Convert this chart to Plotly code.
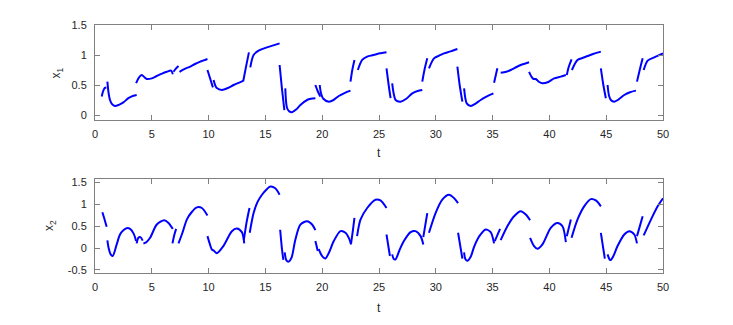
import plotly.graph_objects as go

# x1 segments (t, value)
x1_t = [
    [0.59, 0.72, 0.85, 1.0],
    [1.09, 1.18, 1.32, 1.5, 1.76, 2.1, 2.5, 2.94, 3.38, 3.67],
    [3.62, 3.85, 4.12, 4.35, 4.56, 5.0, 5.44, 5.9, 6.32, 6.7, 6.85],
    [6.91, 7.1, 7.35],
    [7.44, 7.9, 8.38, 8.8, 9.26, 9.9],
    [9.9, 10.15, 10.38],
    [10.44, 10.57, 10.72, 11.17, 11.7, 12.2, 12.7, 13.08],
    [13.05, 13.3, 13.55],
    [13.67, 13.96, 14.4, 15.14, 15.7, 16.25],
    [16.25, 16.45, 16.67],
    [16.75, 16.9, 17.1, 17.34, 17.7, 18.08, 18.67, 19.0, 19.4],
    [19.4, 19.6, 19.84],
    [19.78, 19.9, 20.1, 20.58, 21.0, 21.46, 22.0, 22.49],
    [22.49, 22.65, 22.84],
    [23.14, 23.52, 23.96, 24.4, 24.84, 25.66],
    [25.66, 25.85, 26.02],
    [26.16, 26.3, 26.46, 26.9, 27.4, 27.93, 28.4, 28.81],
    [28.81, 29.0, 29.25],
    [29.4, 29.84, 30.3, 30.72, 31.3, 31.9],
    [31.9, 32.1, 32.34],
    [32.49, 32.6, 32.72, 33.07, 33.5, 33.95, 34.5, 35.07],
    [35.13, 35.3, 35.42],
    [35.71, 36.2, 36.6, 37.1, 37.48, 38.21],
    [38.21, 38.45, 38.6, 38.8, 39.1, 39.39, 39.9, 40.42, 41.0, 41.45],
    [41.53, 41.7, 41.95],
    [41.98, 42.47, 42.9, 43.36, 43.9, 44.53],
    [44.53, 44.75, 44.97],
    [45.12, 45.25, 45.41, 45.71, 46.1, 46.59, 47.1, 47.62],
    [47.71, 47.95, 48.21],
    [48.3, 48.65, 49.24, 50.0],
]
x1_v = [
    [0.31, 0.40, 0.45, 0.46],
    [0.556, 0.39, 0.25, 0.18, 0.15, 0.17, 0.21, 0.28, 0.32, 0.333],
    [0.53, 0.62, 0.667, 0.63, 0.60, 0.61, 0.65, 0.69, 0.72, 0.74, 0.68],
    [0.72, 0.77, 0.817],
    [0.72, 0.77, 0.806, 0.85, 0.889, 0.933],
    [0.75, 0.6, 0.46],
    [0.583, 0.5, 0.45, 0.417, 0.45, 0.5, 0.54, 0.572],
    [0.567, 0.81, 1.044],
    [0.794, 1.0, 1.072, 1.128, 1.16, 1.194],
    [0.833, 0.45, 0.083],
    [0.444, 0.12, 0.06, 0.045, 0.09, 0.167, 0.25, 0.27, 0.28],
    [0.5, 0.4, 0.306],
    [0.5, 0.36, 0.27, 0.222, 0.25, 0.317, 0.37, 0.406],
    [0.556, 0.75, 0.917],
    [0.75, 0.917, 0.972, 0.995, 1.017, 1.044],
    [0.778, 0.5, 0.28],
    [0.528, 0.35, 0.25, 0.222, 0.27, 0.361, 0.40, 0.417],
    [0.556, 0.75, 0.944],
    [0.778, 0.944, 0.99, 1.028, 1.06, 1.1],
    [0.806, 0.5, 0.222],
    [0.444, 0.28, 0.194, 0.15, 0.19, 0.25, 0.31, 0.361],
    [0.539, 0.68, 0.778],
    [0.706, 0.72, 0.75, 0.8, 0.833, 0.878],
    [0.72, 0.63, 0.60, 0.60, 0.55, 0.528, 0.55, 0.611, 0.64, 0.667],
    [0.667, 0.8, 0.928],
    [0.75, 0.917, 0.95, 0.983, 1.02, 1.056],
    [0.778, 0.5, 0.28],
    [0.5, 0.32, 0.25, 0.222, 0.26, 0.333, 0.38, 0.406],
    [0.556, 0.75, 0.944],
    [0.75, 0.906, 0.961, 1.025],
]

# x2 segments
x2_t = [
    [0.65, 0.85, 1.03],
    [1.09, 1.2, 1.38, 1.56, 1.91, 2.2, 2.5, 2.79, 3.09, 3.4, 3.62],
    [3.67, 3.82, 4.0, 4.2],
    [4.26, 4.5, 4.85, 5.44, 6.09, 6.47, 6.85],
    [6.82, 6.98, 7.14],
    [7.35, 7.7, 8.08, 8.5, 8.96, 9.41, 9.9],
    [9.9, 10.1, 10.28, 10.49, 10.72, 11.3, 12.05, 12.49, 12.93, 13.14],
    [13.1, 13.35, 13.6],
    [13.62, 13.96, 14.3, 14.7, 15.1, 15.43, 15.87, 16.25],
    [16.3, 16.45, 16.58],
    [16.7, 16.85, 17.05, 17.3, 17.64, 18.08, 18.67, 19.11, 19.4],
    [19.4, 19.61],
    [19.7, 19.85, 20.05, 20.28, 20.6, 21.02, 21.61, 22.05, 22.4, 22.54],
    [22.54, 22.7, 22.84],
    [23.07, 23.37, 23.96, 24.69, 25.13, 25.66],
    [25.66, 25.96],
    [26.16, 26.3, 26.46, 26.8, 27.19, 27.78, 28.22, 28.66, 28.9],
    [28.9, 29.25],
    [29.4, 29.98, 30.57, 31.16, 31.6, 31.96],
    [31.96, 32.34],
    [32.49, 32.6, 32.8, 33.07, 33.37, 33.66, 34.0, 34.39, 34.83, 35.13],
    [35.19, 35.66],
    [35.71, 36.3, 36.89, 37.48, 37.92, 38.3],
    [38.3, 38.65, 38.95, 39.39, 40.12, 40.71, 41.15, 41.45],
    [41.53, 41.89],
    [41.95, 42.47, 43.06, 43.65, 44.09, 44.53],
    [44.53, 44.88],
    [45.12, 45.3, 45.41, 45.6, 46.0, 46.59, 47.03, 47.47, 47.71],
    [47.71, 48.21],
    [48.3, 48.94, 49.53, 50.0],
]
x2_v = [
    [0.82, 0.65, 0.486],
    [0.175, 0.0, -0.144, -0.181, 0.084, 0.311, 0.41, 0.455, 0.44, 0.33, 0.16],
    [0.107, 0.235, 0.25, 0.17],
    [0.107, 0.13, 0.235, 0.538, 0.637, 0.576, 0.44],
    [0.107, 0.3, 0.44],
    [0.107, 0.35, 0.652, 0.82, 0.932, 0.917, 0.743],
    [0.273, 0.1, -0.03, -0.067, -0.12, 0.046, 0.387, 0.447, 0.364, 0.107],
    [0.18, 0.6, 0.917],
    [0.35, 0.8, 1.05, 1.22, 1.34, 1.41, 1.37, 1.22],
    [0.42, 0.0, -0.27],
    [-0.1, -0.28, -0.31, -0.22, 0.198, 0.538, 0.614, 0.538, 0.41],
    [0.16, -0.067],
    [-0.02, -0.12, -0.2, -0.24, -0.1, 0.16, 0.387, 0.35, 0.2, 0.084],
    [0.1, 0.4, 0.69],
    [0.273, 0.652, 0.917, 1.107, 1.09, 0.917],
    [0.311, -0.181],
    [-0.144, -0.25, -0.257, -0.05, 0.16, 0.364, 0.387, 0.273, 0.084],
    [0.25, 0.8],
    [0.35, 0.8, 1.107, 1.22, 1.145, 1.03],
    [0.35, -0.24],
    [-0.1, -0.25, -0.29, -0.2, 0.03, 0.198, 0.33, 0.425, 0.364, 0.107],
    [0.16, 0.44],
    [0.182, 0.5, 0.728, 0.842, 0.766, 0.637],
    [0.235, 0.046, -0.015, 0.084, 0.463, 0.576, 0.5, 0.137],
    [0.273, 0.652],
    [0.235, 0.652, 0.955, 1.12, 1.09, 0.955],
    [0.35, -0.24],
    [-0.144, -0.26, -0.272, -0.2, 0.046, 0.311, 0.387, 0.311, 0.107],
    [0.273, 0.728],
    [0.289, 0.652, 0.955, 1.14],
]

t_ticks = [0, 5, 10, 15, 20, 25, 30, 35, 40, 45, 50]
x1_ticks = [0, 0.5, 1, 1.5]
x1_ticktext = ['0', '0.5', '1', '1.5']
x2_ticks = [-0.5, 0, 0.5, 1, 1.5]
x2_ticktext = ['-0.5', '0', '0.5', '1', '1.5']

FONT = 'Liberation Sans, Arial, sans-serif'
AX = '#808080'
TXT = '#262626'

fig = go.Figure()

def add_segments(ts, vs, xa, ya):
    for tt, vv in zip(ts, vs):
        fig.add_trace(go.Scatter(x=tt, y=vv, mode='lines', xaxis=xa, yaxis=ya,
                                 line=dict(color='#0000ff', width=2, shape='spline', smoothing=0.8),
                                 showlegend=False, hoverinfo='skip'))

add_segments(x1_t, x1_v, 'x', 'y')
add_segments(x2_t, x2_v, 'x2', 'y2')

axis_common = dict(showline=True, linecolor=AX, linewidth=1, mirror='ticks',
                   ticks='inside', ticklen=5, tickcolor=AX, showgrid=False,
                   zeroline=False, tickfont=dict(family=FONT, size=11, color=TXT))

fig.update_layout(
    width=733, height=325,
    margin=dict(l=95, r=70, t=25, b=52),
    paper_bgcolor='white', plot_bgcolor='white',
    xaxis=dict(domain=[0, 1], range=[0, 50], tickvals=t_ticks, anchor='y',
               ticklabelstandoff=4, **axis_common),
    yaxis=dict(domain=[0.617, 1], range=[-0.083, 1.5], tickvals=x1_ticks,
               ticktext=x1_ticktext, anchor='x', ticklabelstandoff=5, **axis_common),
    xaxis2=dict(domain=[0, 1], range=[0, 50], tickvals=t_ticks, anchor='y2',
                ticklabelstandoff=4, **axis_common),
    yaxis2=dict(domain=[0, 0.379], range=[-0.57, 1.58], tickvals=x2_ticks,
                ticktext=x2_ticktext, anchor='x2', ticklabelstandoff=5, **axis_common),
)

# axis titles
lab = dict(family=FONT, size=12, color=TXT)
fig.add_annotation(text='x<sub>1</sub>', xref='paper', yref='paper', x=-0.067, y=0.808,
                   textangle=-90, showarrow=False, font=lab, xanchor='center', yanchor='middle')
fig.add_annotation(text='x<sub>2</sub>', xref='paper', yref='paper', x=-0.079, y=0.19,
                   textangle=-90, showarrow=False, font=lab, xanchor='center', yanchor='middle')
fig.add_annotation(text='t', xref='paper', yref='paper', x=0.5, y=0.484,
                   showarrow=False, font=lab, xanchor='center', yanchor='middle')
fig.add_annotation(text='t', xref='paper', yref='paper', x=0.5, y=-0.141,
                   showarrow=False, font=lab, xanchor='center', yanchor='middle')

# page body has a default 8px margin; drop it so the figure sits at the window origin
fig.write_html("out.html", config={'displayModeBar': False},
               post_script="document.body.style.margin='0';")
